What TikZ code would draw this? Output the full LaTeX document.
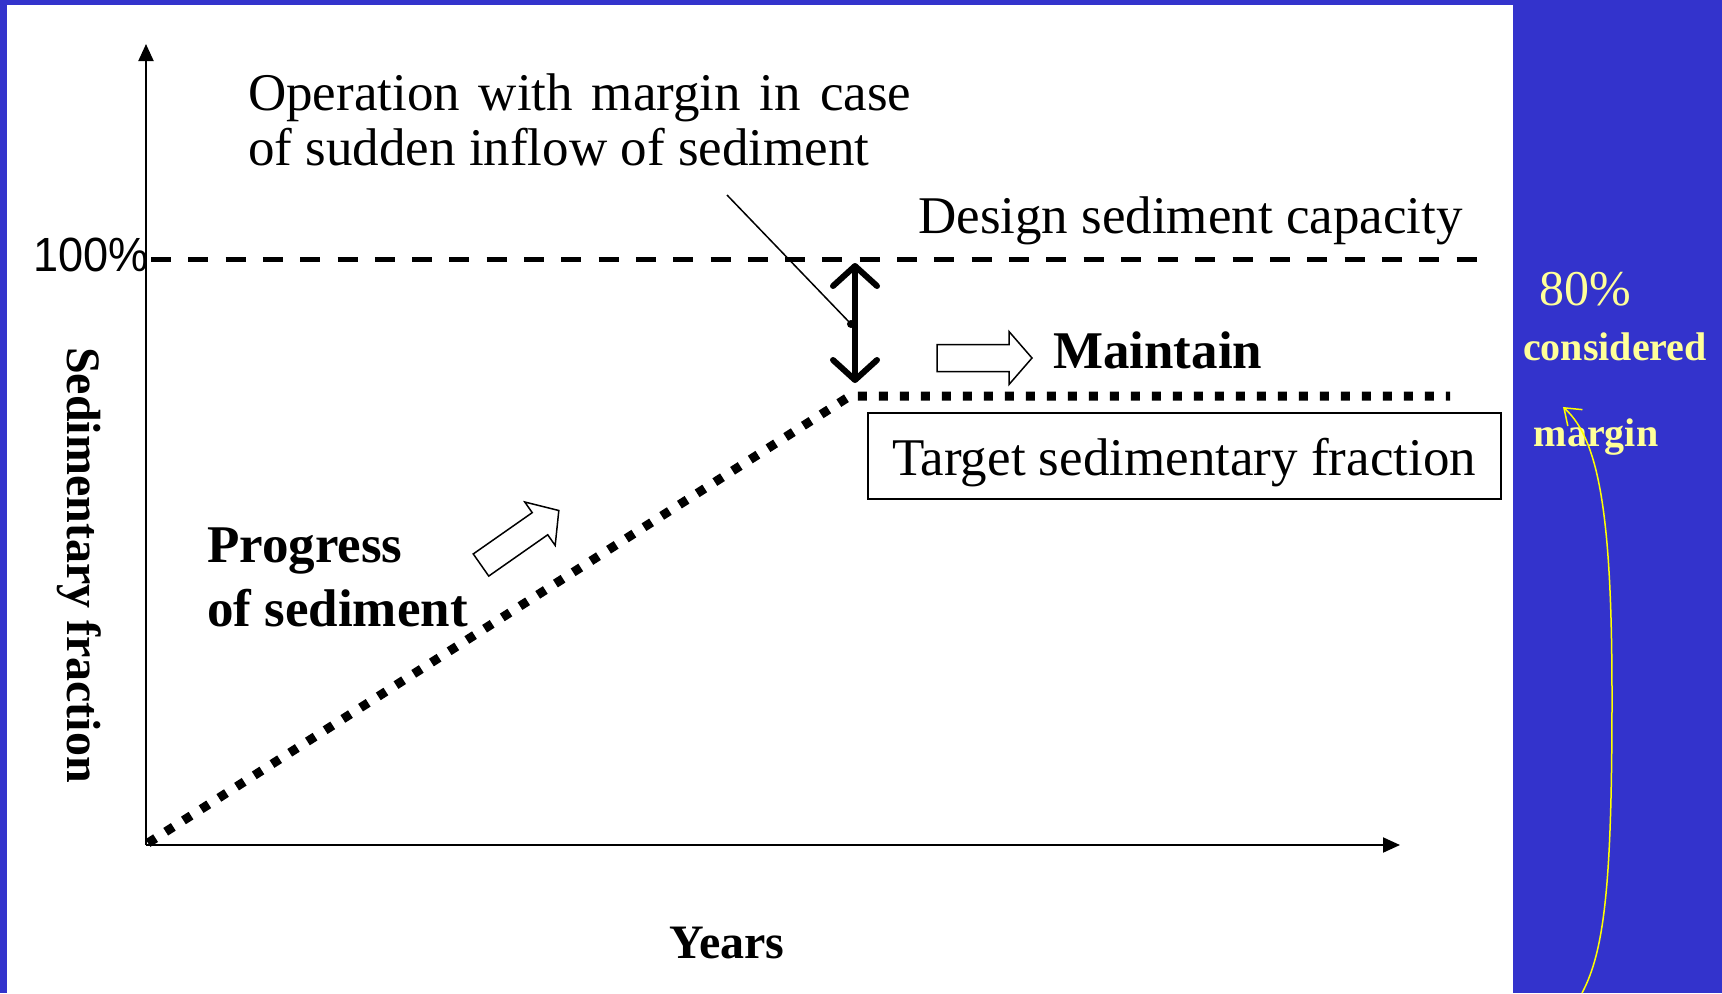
\documentclass[tikz,border=0pt]{standalone}
\usepackage{fontspec}
\setmainfont{Liberation Serif}
\newfontfamily\arialfont{Liberation Sans}
\usetikzlibrary{arrows.meta}
\definecolor{slide}{HTML}{3333CC}
\definecolor{note}{HTML}{FFFF99}
\definecolor{pen}{HTML}{FFFF00}
\newcommand{\Px}{1pt}
\tikzset{
  axis/.style={line width=2pt, -{Triangle[length=17pt,width=15pt]}},
  plain/.style={font=\fontsize{53}{55}\selectfont, inner sep=0pt},
  heavy/.style={font=\bfseries\fontsize{53}{64}\selectfont, inner sep=0pt},
  title/.style={font=\bfseries\fontsize{48}{50}\selectfont, inner sep=0pt},
  capline/.style={line width=5pt, dash pattern=on 20pt off 17.3pt},
  dots/.style={line width=9pt, dash pattern=on 9pt off 12pt},
  hollow/.style={draw=black, fill=white, line width=1.5pt},
  gap/.style={line width=6pt, line cap=round,
    {Straight Barb[round,length=20pt,width=44pt]}-{Straight Barb[round,length=20pt,width=44pt]}},
  side/.style={text=note, inner sep=0pt, anchor=base}
}

\begin{document}
\begin{tikzpicture}[x=\Px,y=-\Px, line join=miter]

  % ---- slide ---------------------------------------------------------------
  \fill[slide] (0,0) rectangle (1722,993);
  \fill[white] (7,5) rectangle (1513,993);

  % ---- axes ----------------------------------------------------------------
  \coordinate (origin) at (146,845);
  \coordinate (ytop) at (146,44);
  \coordinate (xend) at (1400,845);
  \draw[axis] (origin) -- (ytop);
  \draw[axis] (origin) -- (xend);
  \node[title, rotate=-90] (ylabel) at (79,565) {Sedimentary fraction};
  \node[title, anchor=base] (years) at (727,958) {Years};

  % ---- design capacity -----------------------------------------------------
  \node[font=\arialfont\fontsize{48}{48}\selectfont, inner sep=0pt, anchor=base east, xscale=0.94] (full) at (149,271) {100\%};
  \coordinate (capL) at (151,259);
  \coordinate (capR) at (1477,259);
  \draw[capline] (capL) -- (capR);
  \node[plain, anchor=base west] (capacity) at (918,233) {Design sediment capacity};

  % ---- sediment path -------------------------------------------------------
  \coordinate (start) at (148,843);
  \coordinate (turn) at (850,396);
  \coordinate (stop) at (1450,396);
  \draw[dots] (start) -- (turn) -- (stop);

  % ---- margin below the capacity -------------------------------------------
  \coordinate (gapTop) at (855,263);
  \coordinate (gapBot) at (855,383);
  \draw[gap] (gapBot) -- (gapTop);
  \node[plain, anchor=north west, align=left] (operation) at (248,74)
    {{\spaceskip=0.355em Operation with margin in case}\\of sudden inflow of sediment};
  \coordinate (lead) at (727,195);
  \coordinate (pin) at (851,324);
  \draw[line width=1.5pt] (lead) -- (pin);
  \fill (pin) circle (4);

  % ---- hollow arrows -------------------------------------------------------
  \foreach \ax/\ay/\turn in {937/358/0, 481/565/35} {
    \draw[hollow, shift={(\ax,\ay)}, rotate=\turn]
      (0,-13.5) -- (72,-13.5) -- (72,-26.5) -- (95,0) -- (72,26.5) -- (72,13.5) -- (0,13.5) -- cycle;
  }
  \node[heavy, anchor=base west] (maintain) at (1053,368) {Maintain};
  \node[heavy, anchor=north west, align=left] (progress) at (207,528) {Progress\\of sediment};

  % ---- target box ----------------------------------------------------------
  \node[plain, draw, line width=2pt, minimum width=633pt, minimum height=86pt,
        text height=50pt, text depth=12pt] (target) at (1184,456) {Target sedimentary fraction};

  % ---- note on the blue side -----------------------------------------------
  \node[side, font=\fontsize{50}{50}\selectfont] (eighty) at (1585,305) {80\%};
  \node[side, font=\bfseries\fontsize{40}{40}\selectfont] (considered) at (1615,360) {considered};
  \node[side, font=\bfseries\fontsize{40}{40}\selectfont] (margin) at (1596,446) {margin};
  \coordinate (tail) at (1582,993);
  \coordinate (tip) at (1563,407);
  \draw[pen, line width=1.5pt, -{Straight Barb[length=15pt,width=22pt]}]
    (tail) .. controls (1605,950) and (1612,880) .. (1612,697)
           .. controls (1612,520) and (1600,440) .. (tip);

\end{tikzpicture}
\end{document}
